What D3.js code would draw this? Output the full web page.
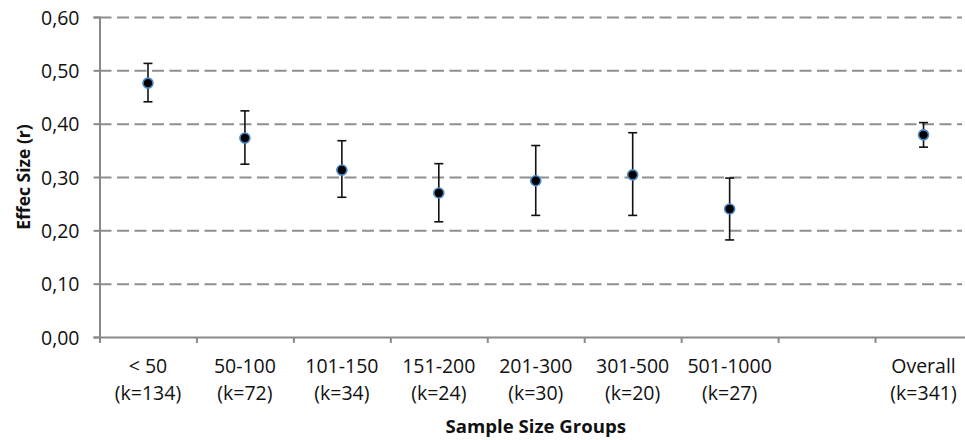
<!DOCTYPE html>
<html>
<head>
<meta charset="utf-8">
<script src="https://cdn.jsdelivr.net/npm/d3@7"></script>
<style>
  body { margin: 0; background: #fff; }
  text { font-family: "Open Sans", "Noto Sans", sans-serif; fill: #111; }
  .grid line { stroke: #8f8f8f; stroke-width: 2; stroke-dasharray: 12,5.5; }
  .grid .domain { display: none; }
  .axis .domain, .axis line { stroke: #8a8a8a; stroke-width: 2; }
  .tick-label { font-size: 19.5px; }
  .axis-label { font-size: 17.5px; font-weight: bold; }
</style>
</head>
<body>
<div id="chart"></div>
<script>
// groups, the empty slot stays as a gap before "Overall"
let groups = ["< 50", "50-100", "101-150", "151-200", "201-300", "301-500", "501-1000", "", "Overall"];
let kLabels = ["(k=134)", "(k=72)", "(k=34)", "(k=24)", "(k=30)", "(k=20)", "(k=27)", "", "(k=341)"];
let effect = [0.476, 0.373, 0.313, 0.270, 0.293, 0.304, 0.240, null, 0.379];
let lower = [0.441, 0.324, 0.262, 0.216, 0.228, 0.228, 0.182, null, 0.356];
let upper = [0.513, 0.424, 0.368, 0.325, 0.359, 0.383, 0.298, null, 0.402];
let yTicks = [0, 0.1, 0.2, 0.3, 0.4, 0.5, 0.6];

let W = 965, H = 440;
let plot = { left: 99.5, right: 972, top: 17, bottom: 337 };

let svg = d3.select("#chart").append("svg")
    .attr("width", W)
    .attr("height", H);

let x = d3.scaleBand().domain(d3.range(groups.length)).range([plot.left, plot.right]).padding(0);
let xEdge = d3.scaleLinear().domain([0, groups.length]).range([plot.left, plot.right]);
let y = d3.scaleLinear().domain([0, 0.6]).range([plot.bottom, plot.top]);

let fmt = v => d3.format(".2f")(v).replace(".", ",");

// dashed gridlines
svg.append("g")
    .attr("class", "grid")
    .attr("transform", "translate(" + plot.left + ",0)")
    .call(d3.axisLeft(y).tickValues(yTicks.slice(1)).tickSize(-(962 - plot.left)).tickFormat(""));

// y axis
let yAxis = svg.append("g")
    .attr("class", "axis")
    .attr("transform", "translate(" + plot.left + ",0)")
    .call(d3.axisLeft(y).tickValues(yTicks).tickSize(6).tickFormat(fmt));
yAxis.selectAll("text")
    .attr("class", "tick-label")
    .attr("x", -20)
    .attr("dy", "0.36em");

// x axis, ticks on the group boundaries
svg.append("g")
    .attr("class", "axis")
    .attr("transform", "translate(0," + plot.bottom + ")")
    .call(d3.axisBottom(xEdge).tickValues(d3.range(groups.length + 1)).tickSize(6).tickFormat(""));

// two-line category labels
let lab = svg.append("g");
lab.selectAll(".g1")
    .data(groups)
    .join("text")
    .attr("class", "tick-label")
    .attr("x", (d, i) => x(i) + x.bandwidth() / 2)
    .attr("y", 373)
    .attr("text-anchor", "middle")
    .text(d => d);
lab.selectAll(".g2")
    .data(kLabels)
    .join("text")
    .attr("class", "tick-label")
    .attr("x", (d, i) => x(i) + x.bandwidth() / 2)
    .attr("y", 400)
    .attr("text-anchor", "middle")
    .text(d => d);

// error bars
let pts = effect.map((v, i) => ({ i: i, v: v, lo: lower[i], hi: upper[i] })).filter(d => d.v !== null);
let cx = d => x(d.i) + x.bandwidth() / 2;

let bars = svg.append("g").attr("stroke", "#111").attr("stroke-width", 1.6);
bars.selectAll(".stem")
    .data(pts)
    .join("line")
    .attr("x1", cx).attr("x2", cx)
    .attr("y1", d => y(d.hi)).attr("y2", d => y(d.lo));
bars.selectAll(".capT")
    .data(pts)
    .join("line")
    .attr("x1", d => cx(d) - 4.5).attr("x2", d => cx(d) + 4.5)
    .attr("y1", d => y(d.hi)).attr("y2", d => y(d.hi));
bars.selectAll(".capB")
    .data(pts)
    .join("line")
    .attr("x1", d => cx(d) - 4.5).attr("x2", d => cx(d) + 4.5)
    .attr("y1", d => y(d.lo)).attr("y2", d => y(d.lo));

// markers
svg.append("g").selectAll("circle")
    .data(pts)
    .join("circle")
    .attr("cx", cx)
    .attr("cy", d => y(d.v))
    .attr("r", 5)
    .attr("fill", "#000")
    .attr("stroke", "#4a86c5")
    .attr("stroke-width", 1.6);

// axis titles
svg.append("text")
    .attr("class", "axis-label")
    .style("font-size", "18.6px")
    .attr("x", (plot.left + plot.right) / 2)
    .attr("y", 433)
    .attr("text-anchor", "middle")
    .text("Sample Size Groups");

svg.append("text")
    .attr("class", "axis-label")
    .attr("transform", "translate(30," + ((plot.top + plot.bottom) / 2) + ") rotate(-90)")
    .attr("text-anchor", "middle")
    .text("Effec Size (r)");
</script>
</body>
</html>
